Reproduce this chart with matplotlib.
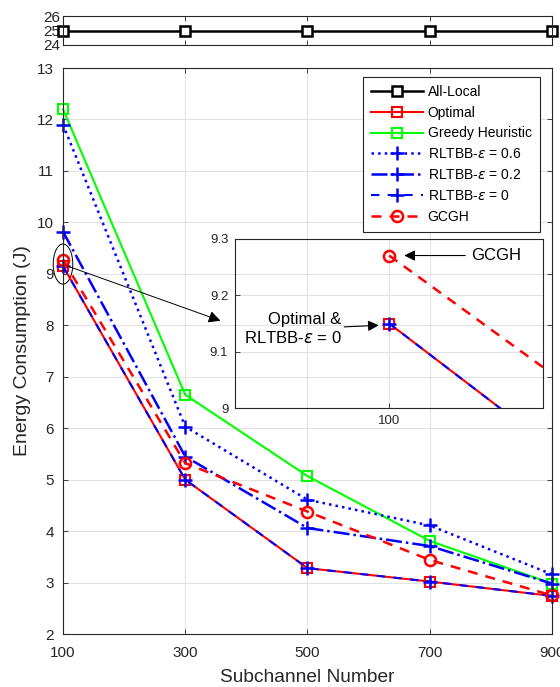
import matplotlib
matplotlib.use('Agg')
import matplotlib.pyplot as plt
from matplotlib.patches import Ellipse

# ---------------- data ----------------
subchannels = [100, 300, 500, 700, 900]
all_local = [25, 25, 25, 25, 25]
optimal = [9.15, 5.0, 3.28, 3.02, 2.74]
greedy = [12.2, 6.65, 5.07, 3.81, 2.98]
rltbb_06 = [11.9, 6.03, 4.61, 4.11, 3.16]
rltbb_02 = [9.82, 5.45, 4.06, 3.71, 2.98]
rltbb_0 = [9.15, 5.0, 3.28, 3.02, 2.74]
gcgh = [9.27, 5.32, 4.38, 3.44, 2.75]

x_ticks = [100, 300, 500, 700, 900]
y_ticks = [2, 3, 4, 5, 6, 7, 8, 9, 10, 11, 12, 13]
top_ticks = [24, 25, 26]
inset_yticks = [9, 9.1, 9.2, 9.3]

plt.rcParams['font.family'] = ['Arial', 'Liberation Sans', 'DejaVu Sans']
axis_color = '#262626'

fig = plt.figure(figsize=(5.6, 6.87), dpi=100)
ax_top = fig.add_axes([0.1125, 0.9345, 0.8732, 0.0415])
ax = fig.add_axes([0.1125, 0.0771, 0.8732, 0.8239])
ax_in = fig.add_axes([0.420, 0.4054, 0.550, 0.2474])


def style_axes(a, fs):
    a.tick_params(direction='in', top=True, right=True, labelsize=fs,
                  colors=axis_color, length=3.6, width=0.6)
    for s in a.spines.values():
        s.set_color(axis_color)
        s.set_linewidth(0.8)


# top axis: All-Local
h_local, = ax_top.plot(subchannels, all_local, '-s', color='k', lw=1.8,
                       ms=7, mfc='white', mew=1.8, label='All-Local', clip_on=False)
ax_top.set_xlim(100, 900)
ax_top.set_ylim(24, 26)
ax_top.set_yticks(top_ticks)
ax_top.set_xticks(x_ticks)
ax_top.set_xticklabels([])
style_axes(ax_top, 11)
ax_top.tick_params(axis='y', pad=2)


def draw_lines(a, clip=True):
    hs = []
    hs.append(a.plot(subchannels, optimal, '-s', color='#ff0000', lw=1.5, ms=7,
                     mfc='none', mew=1.5, label='Optimal', clip_on=clip)[0])
    hs.append(a.plot(subchannels, greedy, '-s', color='#00ff00', lw=1.5, ms=7,
                     mfc='none', mew=1.5, label='Greedy Heuristic', clip_on=clip)[0])
    hs.append(a.plot(subchannels, rltbb_06, ':+', color='#0000ff', lw=1.8, ms=10,
                     mew=1.8, label=r'RLTBB-$\epsilon$ = 0.6', clip_on=clip)[0])
    hs.append(a.plot(subchannels, rltbb_02, '-.+', color='#0000ff', lw=1.8, ms=10,
                     mew=1.8, label=r'RLTBB-$\epsilon$ = 0.2', clip_on=clip)[0])
    hs.append(a.plot(subchannels, rltbb_0, '+', ls=(0, (4, 4)), color='#0000ff', lw=1.5,
                     ms=10, mew=1.8, label=r'RLTBB-$\epsilon$ = 0', clip_on=clip)[0])
    hs.append(a.plot(subchannels, gcgh, 'o', ls=(0, (4, 3.2)), color='#ff0000', lw=1.8, ms=8,
                     mfc='none', mew=1.8, label='GCGH', clip_on=clip)[0])
    return hs


handles = draw_lines(ax, clip=False)
ax.set_xlim(100, 900)
ax.set_ylim(2, 13)
ax.set_xticks(x_ticks)
ax.set_yticks(y_ticks)
ax.grid(True, color='#e3e3e3', lw=0.8)
ax.set_axisbelow(True)
style_axes(ax, 11)
ax.tick_params(axis='x', pad=8.5)
ax.tick_params(axis='y', pad=6.5)
ax.set_xlabel('Subchannel Number', fontsize=13.8, color=axis_color, labelpad=6.5)
ax.set_ylabel('Energy Consumption (J)', fontsize=14, color=axis_color, labelpad=4)

leg = ax.legend([h_local] + handles, [h_local.get_label()] + [h.get_label() for h in handles],
                loc='upper right', bbox_to_anchor=(0.9755, 0.985), borderaxespad=0,
                fontsize=10, handlelength=3.72, handletextpad=0.36, borderpad=0.6,
                labelspacing=0.49, fancybox=False, framealpha=1, edgecolor=axis_color)
leg.get_frame().set_linewidth(0.8)

# ellipse and pointer to inset
ax.add_patch(Ellipse((100, 9.19), 32, 0.78, fill=False, ec='k', lw=0.7, clip_on=False))
ax.annotate('', xy=(362, 8.07), xytext=(103, 9.17),
            arrowprops=dict(arrowstyle='-|>', color='k', lw=0.7, mutation_scale=18))

# inset
ax_in.set_facecolor('none')
draw_lines(ax_in)
ax_in.set_xlim(90, 110)
ax_in.set_ylim(9, 9.3)
ax_in.set_xticks([100])
ax_in.set_yticks(inset_yticks)
ax_in.set_yticklabels(['9', '9.1', '9.2', '9.3'])
ax_in.grid(True, color='#e3e3e3', lw=0.8)
ax_in.set_axisbelow(True)
style_axes(ax_in, 9.5)
ax_in.tick_params(top=False, right=False, pad=5)
ax_in.annotate('GCGH', xy=(100.8, 9.27), xytext=(105.3, 9.27), fontsize=12,
               va='center', ha='left',
               arrowprops=dict(arrowstyle='-|>', color='k', lw=0.8, mutation_scale=16))
ax_in.annotate('Optimal &\n' + r'RLTBB-$\epsilon$ = 0', xy=(99.5, 9.147), xytext=(96.9, 9.14),
               fontsize=12, va='center', ha='right', multialignment='right',
               arrowprops=dict(arrowstyle='-|>', color='k', lw=0.8, mutation_scale=16,
                               shrinkA=0))

fig.savefig('out.png', dpi=100)
